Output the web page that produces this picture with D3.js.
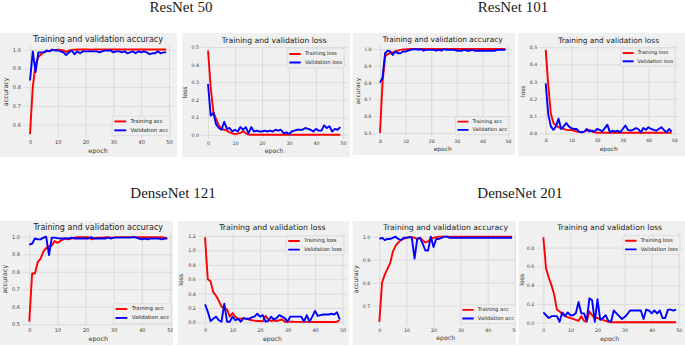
<!DOCTYPE html>
<html>
<head>
<meta charset="utf-8">
<script src="https://cdn.jsdelivr.net/npm/d3@7/dist/d3.min.js"></script>
<style>
  body { margin: 0; background: #fff; }
  svg { display: block; }
</style>
</head>
<body>
<div id="chart"></div>
<script>
// tick labels
const epochTicks = [0, 10, 20, 30, 40, 50];
const accTicks50 = [0.6, 0.7, 0.8, 0.9, 1.0];
const lossTicks50 = [0.0, 0.1, 0.2, 0.3, 0.4, 0.5];
const accTicks101 = [0.5, 0.6, 0.7, 0.8, 0.9, 1.0];
const lossTicks101 = [0.0, 0.1, 0.2, 0.3, 0.4, 0.5];
const accTicks121 = [0.5, 0.6, 0.7, 0.8, 0.9, 1.0];
const lossTicks121 = [0.0, 0.2, 0.4, 0.6, 0.8, 1.0, 1.2];
const accTicks201 = [0.7, 0.8, 0.9, 1.0];
const lossTicks201 = [0.0, 0.2, 0.4, 0.6, 0.8];

const modelNames = ['ResNet 50', 'ResNet 101', 'DenseNet 121', 'DenseNet 201'];

// ResNet 50
const trainAcc50 = [0.55, 0.80, 0.92, 0.96, 0.975, 0.985, 0.99, 0.993, 0.996, 0.998,
  0.999, 0.998, 0.995, 0.988, 0.994, 0.998, 0.999, 1.0, 1.0, 1.0,
  1.0, 1.0, 0.999, 1.0, 1.0, 1.0, 1.0, 1.0, 1.0, 1.0,
  1.0, 1.0, 1.0, 1.0, 1.0, 1.0, 1.0, 1.0, 1.0, 1.0,
  1.0, 1.0, 1.0, 1.0, 1.0, 1.0, 1.0, 1.0, 1.0, 1.0];
const valAcc50 = [0.835, 0.99, 0.88, 0.985, 0.985, 0.985, 0.995, 0.99, 1.0, 0.995,
  0.995, 0.99, 0.985, 0.97, 0.985, 0.995, 0.975, 0.99, 0.98, 0.99,
  0.99, 0.99, 0.99, 0.99, 0.99, 0.985, 0.99, 0.995, 0.995, 0.995,
  0.985, 0.99, 0.99, 0.985, 0.99, 0.98, 0.985, 0.99, 0.98, 0.99,
  0.985, 0.99, 0.985, 0.975, 0.98, 0.98, 0.99, 0.98, 0.985, 0.985];
const trainLoss50 = [0.48, 0.27, 0.13, 0.09, 0.055, 0.035, 0.03, 0.025, 0.015, 0.01,
  0.005, 0.008, 0.012, 0.022, 0.01, 0.003, 0.002, 0.002, 0.002, 0.002,
  0.002, 0.002, 0.002, 0.002, 0.002, 0.002, 0.002, 0.002, 0.002, 0.002,
  0.002, 0.002, 0.002, 0.002, 0.002, 0.002, 0.002, 0.002, 0.002, 0.002,
  0.002, 0.002, 0.002, 0.002, 0.002, 0.002, 0.002, 0.002, 0.002, 0.002];
const valLoss50 = [0.29, 0.11, 0.125, 0.06, 0.04, 0.03, 0.075, 0.035, 0.04, 0.02,
  0.03, 0.02, 0.045, 0.03, 0.045, 0.01, 0.045, 0.02, 0.025, 0.02,
  0.02, 0.025, 0.02, 0.025, 0.02, 0.03, 0.025, 0.03, 0.01, 0.015,
  0.005, 0.02, 0.025, 0.03, 0.03, 0.03, 0.04, 0.035, 0.03, 0.02,
  0.035, 0.025, 0.025, 0.055, 0.04, 0.05, 0.02, 0.035, 0.03, 0.045];

// ResNet 101
const trainAcc101 = [0.5, 0.80, 0.955, 0.97, 0.975, 0.98, 0.985, 0.99, 0.995, 0.997,
  0.998, 0.999, 1.0, 1.0, 1.0, 1.0, 1.0, 1.0, 1.0, 1.0,
  1.0, 1.0, 1.0, 1.0, 1.0, 1.0, 1.0, 1.0, 1.0, 1.0,
  1.0, 1.0, 1.0, 1.0, 1.0, 1.0, 1.0, 1.0, 1.0, 1.0,
  1.0, 1.0, 1.0, 1.0, 1.0, 1.0, 1.0, 1.0, 1.0, 1.0];
const valAcc101 = [0.80, 0.83, 0.975, 0.99, 0.985, 0.965, 0.985, 0.975, 0.975, 0.985,
  0.985, 0.99, 0.995, 0.998, 1.0, 0.995, 1.0, 0.99, 0.995, 0.995,
  0.995, 0.995, 0.99, 0.995, 0.99, 1.0, 0.995, 0.995, 0.995, 0.995,
  0.99, 0.99, 0.99, 0.995, 0.99, 0.99, 0.995, 0.99, 0.99, 0.99,
  0.99, 0.99, 0.99, 0.99, 0.99, 0.99, 0.995, 0.995, 0.995, 0.995];
const trainLoss101 = [0.485, 0.28, 0.115, 0.06, 0.045, 0.035, 0.03, 0.025, 0.02, 0.018,
  0.02, 0.015, 0.01, 0.008, 0.006, 0.01, 0.015, 0.02, 0.01, 0.005,
  0.003, 0.003, 0.003, 0.003, 0.003, 0.003, 0.003, 0.003, 0.003, 0.003,
  0.003, 0.003, 0.003, 0.003, 0.003, 0.003, 0.003, 0.003, 0.003, 0.003,
  0.003, 0.003, 0.003, 0.003, 0.003, 0.003, 0.003, 0.003, 0.003, 0.003];
const valLoss101 = [0.29, 0.11, 0.04, 0.02, 0.04, 0.085, 0.025, 0.04, 0.06, 0.04,
  0.03, 0.025, 0.025, 0.01, 0.005, 0.01, 0.025, 0.01, 0.015, 0.01,
  0.025, 0.02, 0.01, 0.03, 0.05, 0.005, 0.015, 0.01, 0.015, 0.005,
  0.025, 0.045, 0.02, 0.015, 0.02, 0.03, 0.025, 0.005, 0.03, 0.02,
  0.035, 0.025, 0.02, 0.015, 0.025, 0.035, 0.02, 0.005, 0.025, 0.01];

// DenseNet 121
const trainAcc121 = [0.515, 0.79, 0.79, 0.855, 0.875, 0.915, 0.935, 0.945, 0.95, 0.975,
  0.965, 0.975, 0.985, 0.99, 0.985, 0.99, 0.995, 0.998, 0.998, 0.998,
  0.998, 0.998, 0.985, 0.99, 0.995, 0.995, 0.995, 0.998, 0.998, 0.995,
  0.995, 0.998, 0.998, 0.998, 0.998, 0.998, 0.998, 0.998, 0.998, 0.998,
  0.998, 0.998, 0.998, 0.998, 0.998, 0.998, 0.998, 0.998, 0.995, 0.99];
const valAcc121 = [0.955, 0.96, 0.99, 0.985, 0.985, 0.995, 1.0, 0.895, 0.995, 0.995,
  0.992, 0.99, 0.99, 0.99, 0.99, 0.995, 0.99, 0.99, 0.99, 0.99,
  0.99, 0.99, 0.998, 0.99, 0.99, 0.99, 0.99, 0.99, 0.995, 0.99,
  0.995, 0.995, 0.995, 0.995, 0.995, 0.995, 0.995, 0.998, 0.995, 0.99,
  0.985, 0.99, 0.985, 0.99, 0.99, 0.99, 0.99, 0.985, 0.99, 0.99];
const trainLoss121 = [1.18, 0.6, 0.57, 0.42, 0.37, 0.3, 0.22, 0.2, 0.18, 0.08,
  0.13, 0.08, 0.05, 0.05, 0.06, 0.05, 0.04, 0.03, 0.025, 0.02,
  0.02, 0.015, 0.09, 0.04, 0.02, 0.03, 0.02, 0.03, 0.04, 0.01,
  0.01, 0.01, 0.01, 0.008, 0.008, 0.008, 0.008, 0.008, 0.008, 0.006,
  0.006, 0.006, 0.006, 0.006, 0.006, 0.006, 0.006, 0.006, 0.01, 0.03];
const valLoss121 = [0.25, 0.15, 0.02, 0.05, 0.08, 0.03, 0.01, 0.26, 0.01, 0.01,
  0.08, 0.03, 0.05, 0.01, 0.06, 0.05, 0.05, 0.07, 0.08, 0.12,
  0.08, 0.1, 0.01, 0.02, 0.08, 0.04, 0.06, 0.1, 0.08, 0.06,
  0.01, 0.08, 0.08, 0.08, 0.08, 0.08, 0.01, 0.1, 0.01, 0.08,
  0.16, 0.09, 0.1, 0.11, 0.11, 0.11, 0.12, 0.11, 0.14, 0.04];

// DenseNet 201
const trainAcc201 = [0.63, 0.80, 0.835, 0.86, 0.885, 0.935, 0.96, 0.975, 0.985, 0.99,
  0.995, 0.998, 0.999, 0.995, 0.99, 0.995, 0.985, 0.975, 0.98, 0.99,
  0.995, 0.998, 1.0, 1.0, 1.0, 1.0, 1.0, 1.0, 1.0, 1.0,
  1.0, 1.0, 1.0, 1.0, 1.0, 1.0, 1.0, 1.0, 1.0, 1.0,
  1.0, 1.0, 1.0, 1.0, 1.0, 1.0, 1.0, 1.0, 1.0, 1.0];
const valAcc201 = [0.99, 0.995, 0.985, 0.99, 0.99, 0.995, 1.0, 0.99, 0.985, 0.995,
  0.995, 0.998, 0.995, 0.905, 0.99, 0.995, 0.97, 0.94, 0.94, 1.0,
  0.955, 0.99, 0.99, 0.995, 1.0, 1.0, 0.995, 0.995, 0.995, 0.995,
  0.995, 0.995, 0.995, 0.995, 0.995, 0.995, 0.995, 0.995, 0.995, 0.995,
  0.995, 0.995, 0.995, 0.995, 0.995, 0.995, 0.995, 0.995, 0.995, 0.995];
const trainLoss201 = [0.91, 0.58, 0.48, 0.4, 0.3, 0.14, 0.12, 0.09, 0.07, 0.06,
  0.05, 0.04, 0.03, 0.02, 0.07, 0.02, 0.01, 0.12, 0.08, 0.05,
  0.05, 0.04, 0.03, 0.02, 0.01, 0.005, 0.005, 0.005, 0.005, 0.005,
  0.005, 0.005, 0.005, 0.005, 0.005, 0.005, 0.005, 0.005, 0.005, 0.005,
  0.005, 0.005, 0.005, 0.005, 0.005, 0.005, 0.005, 0.005, 0.005, 0.005];
const valLoss201 = [0.11, 0.08, 0.05, 0.07, 0.07, 0.07, 0.01, 0.11, 0.07, 0.11,
  0.08, 0.08, 0.1, 0.22, 0.1, 0.1, 0.02, 0.26, 0.24, 0.01,
  0.25, 0.03, 0.05, 0.08, 0.02, 0.01, 0.13, 0.1, 0.07, 0.04,
  0.06, 0.09, 0.13, 0.13, 0.13, 0.13, 0.13, 0.04, 0.14, 0.13,
  0.1, 0.13, 0.1, 0.13, 0.05, 0.05, 0.14, 0.14, 0.13, 0.14];

const width = 685;
const height = 346;

const svg = d3.select('#chart')
    .append('svg')
    .attr('width', width)
    .attr('height', height);

// model headings
const headings = [[181, 12], [513, 12], [173, 198], [520, 198]];
modelNames.forEach((name, i) => {
  svg.append('text')
      .attr('x', headings[i][0])
      .attr('y', headings[i][1])
      .attr('text-anchor', 'middle')
      .style('font-family', '"Liberation Serif", "Times New Roman", serif')
      .style('font-size', '15px')
      .style('fill', '#1a1a1a')
      .text(name);
});

// panel layout: box = background, axes = plotting area, ts = title font size
const panels = [
  {id: 'a', kind: 'acc', box: [0, 33, 177, 157], axes: [23.2, 45.3, 173, 138.3],
    ts: 8.0, ticks: accTicks50, train: trainAcc50, val: valAcc50, legend: 'lower'},
  {id: 'b', kind: 'loss', box: [182, 33, 350, 157.5], axes: [201.4, 46.3, 346.9, 138.9],
    ts: 7.7, ticks: lossTicks50, train: trainLoss50, val: valLoss50, legend: 'upper'},
  {id: 'c', kind: 'acc', box: [352.5, 33, 515, 155], axes: [373.7, 44.8, 511.7, 137.2],
    ts: 7.4, ticks: accTicks101, train: trainAcc101, val: valAcc101, legend: 'lower'},
  {id: 'd', kind: 'loss', box: [518, 33, 685, 156], axes: [539.4, 45.7, 677.9, 136.9],
    ts: 7.4, ticks: lossTicks101, train: trainLoss101, val: valLoss101, legend: 'upper'},
  {id: 'e', kind: 'acc', box: [0, 220.5, 173, 345], axes: [22.4, 232.5, 174.1, 325.9],
    ts: 8.0, ticks: accTicks121, train: trainAcc121, val: valAcc121, legend: 'lower'},
  {id: 'f', kind: 'loss', box: [178, 221, 349.3, 345], axes: [198.3, 233.2, 346.5, 326.2],
    ts: 7.8, ticks: lossTicks121, train: trainLoss121, val: valLoss121, legend: 'upper'},
  {id: 'g', kind: 'acc', box: [352.3, 221, 516, 345], axes: [372.7, 232.4, 518.7, 326.1],
    ts: 7.7, ticks: accTicks201, train: trainAcc201, val: valAcc201, legend: 'lower'},
  {id: 'h', kind: 'loss', box: [518.5, 221, 685, 345], axes: [536.7, 233.1, 682.7, 326.5],
    ts: 7.7, ticks: lossTicks201, train: trainLoss201, val: valLoss201, legend: 'upper',
    labelGap: 14},
];

const drawPanel = (p) => {
  const k = p.ts / 8;
  const [bx0, by0, bx1, by1] = p.box;
  const [l, t, r, b] = p.axes;

  svg.append('clipPath')
      .attr('id', 'clip-' + p.id)
      .append('rect')
      .attr('x', bx0).attr('y', by0)
      .attr('width', bx1 - bx0).attr('height', by1 - by0);

  const g = svg.append('g').attr('clip-path', 'url(#clip-' + p.id + ')');
  g.append('rect')
      .attr('x', bx0).attr('y', by0)
      .attr('width', bx1 - bx0).attr('height', by1 - by0)
      .attr('fill', '#f0f0f0');

  // matplotlib style autoscale with 5% margins
  const n = p.train.length;
  const xPad = (n - 1) * 0.05;
  const x = d3.scaleLinear().domain([-xPad, n - 1 + xPad]).range([l, r]);
  const [lo, hi] = d3.extent(p.train.concat(p.val));
  const yPad = (hi - lo) * 0.05;
  const y = d3.scaleLinear().domain([lo - yPad, hi + yPad]).range([b, t]);

  // grid
  const grid = g.append('g');
  grid.append('g')
      .attr('transform', 'translate(0,' + b + ')')
      .call(d3.axisBottom(x).tickValues(epochTicks).tickSize(-(b - t)).tickFormat(''));
  grid.append('g')
      .attr('transform', 'translate(' + l + ',0)')
      .call(d3.axisLeft(y).tickValues(p.ticks).tickSize(-(r - l)).tickFormat(''));
  grid.selectAll('.domain').remove();
  grid.selectAll('line').attr('stroke', '#d3d3d3').attr('stroke-width', 0.7);

  // tick labels
  const tickFs = 5 * k;
  const xAxis = g.append('g')
      .attr('transform', 'translate(0,' + b + ')')
      .call(d3.axisBottom(x).tickValues(epochTicks).tickSize(0).tickPadding(2.5 * k));
  const yAxis = g.append('g')
      .attr('transform', 'translate(' + l + ',0)')
      .call(d3.axisLeft(y).tickValues(p.ticks).tickSize(0).tickPadding(2.4 * k)
          .tickFormat(d3.format('.1f')));
  [xAxis, yAxis].forEach((ax) => {
    ax.select('.domain').remove();
    ax.selectAll('text')
        .style('font-family', '"DejaVu Sans", sans-serif')
        .style('font-size', tickFs + 'px')
        .attr('fill', '#3a3a3a');
  });

  // lines
  const line = d3.line()
      .x((d, i) => x(i))
      .y((d) => y(d));
  g.append('path')
      .datum(p.train)
      .attr('fill', 'none')
      .attr('stroke', '#ff0000')
      .attr('stroke-width', 1.9)
      .attr('stroke-linejoin', 'round')
      .attr('d', line);
  g.append('path')
      .datum(p.val)
      .attr('fill', 'none')
      .attr('stroke', '#0000ff')
      .attr('stroke-width', 1.9)
      .attr('stroke-linejoin', 'round')
      .attr('d', line);

  // title and axis labels
  const cx = (l + r) / 2;
  g.append('text')
      .attr('x', cx).attr('y', t - 3 * k)
      .attr('text-anchor', 'middle')
      .style('font-family', '"DejaVu Sans", sans-serif')
      .style('font-size', p.ts + 'px')
      .attr('fill', '#222')
      .text(p.kind === 'acc' ? 'Training and validation accuracy' : 'Training and validation loss');
  g.append('text')
      .attr('x', cx).attr('y', b + 13.2 * k)
      .attr('text-anchor', 'middle')
      .attr('dominant-baseline', 'middle')
      .style('font-family', '"DejaVu Sans", sans-serif')
      .style('font-size', (6.4 * k) + 'px')
      .attr('fill', '#333')
      .text('epoch');
  const gap = p.labelGap || 17 * k;
  g.append('text')
      .attr('transform', 'translate(' + (l - gap) + ',' + ((t + b) / 2) + ') rotate(-90)')
      .attr('text-anchor', 'middle')
      .attr('dominant-baseline', 'middle')
      .style('font-family', '"DejaVu Sans", sans-serif')
      .style('font-size', (6.4 * k) + 'px')
      .attr('fill', '#333')
      .text(p.kind === 'acc' ? 'accuracy' : 'loss');

  // legend
  const fs = 5.4 * k;
  const labels = p.kind === 'acc' ?
    ['Training acc', 'Validation acc'] : ['Training loss', 'Validation loss'];
  const bp = 0.4 * fs;
  const rowH = 1.15 * fs;
  const ls = 0.5 * fs;
  const hl = 2.2 * fs;
  const htp = 0.8 * fs;
  const inset = 0.5 * fs;
  const lg = g.append('g');
  const box = lg.append('rect');
  const texts = labels.map((lab) => lg.append('text')
      .style('font-family', '"DejaVu Sans", sans-serif')
      .style('font-size', fs + 'px')
      .attr('fill', '#222')
      .attr('dominant-baseline', 'middle')
      .text(lab));
  const textW = d3.max(texts, (tx) => tx.node().getComputedTextLength());
  const boxW = 2 * bp + hl + htp + textW;
  const boxH = 2 * bp + 2 * rowH + ls;
  const bx = r - inset - boxW;
  const by = p.legend === 'lower' ? b - inset - boxH : t + inset;
  box.attr('x', bx).attr('y', by)
      .attr('width', boxW).attr('height', boxH)
      .attr('rx', 1.2).attr('ry', 1.2)
      .attr('fill', '#f0f0f0')
      .attr('fill-opacity', 0.8)
      .attr('stroke', '#cccccc')
      .attr('stroke-width', 0.5);
  ['#ff0000', '#0000ff'].forEach((c, i) => {
    const cy = by + bp + rowH / 2 + i * (rowH + ls);
    lg.append('line')
        .attr('x1', bx + bp).attr('x2', bx + bp + hl)
        .attr('y1', cy).attr('y2', cy)
        .attr('stroke', c)
        .attr('stroke-width', 1.9);
    texts[i].attr('x', bx + bp + hl + htp).attr('y', cy);
  });
};

panels.forEach(drawPanel);
</script>
</body>
</html>
